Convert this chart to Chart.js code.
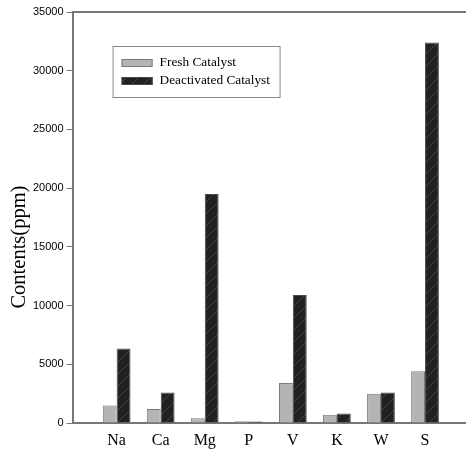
<!DOCTYPE html>
<html>
<head>
<meta charset="utf-8">
<script src="https://cdn.jsdelivr.net/npm/chart.js@4/dist/chart.umd.min.js"></script>
<style>
  body { margin: 0; background: #fff; }
  #wrap { width: 466px; height: 449px; position: relative; }
</style>
</head>
<body>
<div id="wrap"><canvas id="barChart"></canvas></div>
<script>
// element names along the x axis
var elements = ['Na', 'Ca', 'Mg', 'P', 'V', 'K', 'W', 'S']
// contents in ppm
var freshValues = [1500, 1200, 400, 150, 3400, 700, 2500, 4400]
var deactivatedValues = [6350, 2600, 19500, 120, 10900, 800, 2600, 32400]
var seriesNames = ['Fresh Catalyst', 'Deactivated Catalyst']
var yTicks = [0, 5000, 10000, 15000, 20000, 25000, 30000, 35000]

// diagonal hatch for the dark bars
function makeHatch() {
    var c = document.createElement('canvas')
    c.width = 12
    c.height = 12
    var g = c.getContext('2d')
    g.fillStyle = '#212121'
    g.fillRect(0, 0, 12, 12)
    g.strokeStyle = '#424242'
    g.lineWidth = 1
    g.beginPath()
    g.moveTo(0, 12); g.lineTo(12, 0)
    g.moveTo(-6, 6); g.lineTo(6, -6)
    g.moveTo(6, 18); g.lineTo(18, 6)
    g.stroke()
    return g.createPattern(c, 'repeat')
}
var hatch = makeHatch()

function toPoints(values) {
    return values.map(function (v, i) { return { x: i + 1, y: v } })
}

// legend box drawn inside the plot
var boxLegend = {
    id: 'boxLegend',
    afterDraw: function (chart) {
        var ctx = chart.ctx
        var a = chart.chartArea
        var x = a.left + 40, y = a.top + 34
        ctx.save()
        ctx.fillStyle = '#fff'
        ctx.fillRect(x, y, 167, 51)
        ctx.strokeStyle = '#888'
        ctx.lineWidth = 1
        ctx.strokeRect(x + 0.5, y + 0.5, 167, 51)
        ctx.font = '13.3px "Liberation Serif", "Times New Roman", serif'
        ctx.textBaseline = 'middle'
        chart.data.datasets.forEach(function (ds, i) {
            var ry = y + 17 + i * 18
            ctx.fillStyle = ds.backgroundColor
            ctx.fillRect(x + 9, ry - 4, 31, 8)
            ctx.strokeStyle = ds.borderColor
            ctx.strokeRect(x + 9.5, ry - 3.5, 30, 7)
            ctx.fillStyle = '#000'
            ctx.fillText(ds.label, x + 47, ry)
        })
        ctx.restore()
    }
}

// rotated y title, sitting a bit below the middle as in the original
var yTitle = {
    id: 'yTitle',
    afterDraw: function (chart) {
        var ctx = chart.ctx
        var a = chart.chartArea
        ctx.save()
        ctx.translate(20, a.top + a.height * 0.572)
        ctx.rotate(-Math.PI / 2)
        ctx.font = '20.5px "Liberation Serif", "Times New Roman", serif'
        ctx.fillStyle = '#000'
        ctx.textAlign = 'center'
        ctx.textBaseline = 'middle'
        ctx.fillText('Contents(ppm)', 0, 0)
        ctx.restore()
    }
}

var axisGray = '#777'

new Chart(document.getElementById('barChart').getContext('2d'), {
    type: 'bar',
    data: {
        datasets: [
            {
                label: seriesNames[0],
                data: toPoints(freshValues),
                backgroundColor: '#b4b4b4',
                borderColor: '#7a7a7a',
                borderWidth: 1,
                barPercentage: 1,
                categoryPercentage: 0.63
            },
            {
                label: seriesNames[1],
                data: toPoints(deactivatedValues),
                backgroundColor: hatch,
                borderColor: '#4a4a4a',
                borderWidth: 1,
                barPercentage: 1,
                categoryPercentage: 0.63
            }
        ]
    },
    options: {
        maintainAspectRatio: false,
        responsive: true,
        animation: false,
        layout: { padding: { left: 30, top: 12, right: 0, bottom: 0 } },
        plugins: {
            legend: { display: false },
            tooltip: { enabled: false }
        },
        scales: {
            x: {
                type: 'linear',
                min: 0,
                max: 8.93,
                offset: false,
                grid: { display: false, drawTicks: false, offset: false },
                border: { display: true, color: axisGray, width: 2 },
                afterFit: function (scale) { scale.height = 26 },
                ticks: {
                    stepSize: 1,
                    includeBounds: false,
                    autoSkip: false,
                    maxRotation: 0,
                    padding: 8,
                    color: '#000',
                    font: { family: '"Liberation Serif", "Times New Roman", serif', size: 16 },
                    callback: function (v) { return elements[v - 1] || '' }
                }
            },
            xTop: {
                type: 'linear',
                position: 'top',
                min: 0,
                max: 1,
                grid: { display: false, drawTicks: false },
                ticks: { display: false },
                border: { display: true, color: axisGray, width: 2 }
            },
            y: {
                min: 0,
                max: 35000,
                afterBuildTicks: function (scale) {
                    scale.ticks = yTicks.map(function (v) { return { value: v } })
                },
                grid: { drawOnChartArea: false, drawTicks: true, tickLength: 6, color: axisGray },
                border: { display: true, color: axisGray, width: 2 },
                ticks: {
                    padding: 3,
                    color: '#000',
                    font: { family: '"Liberation Sans", Arial, sans-serif', size: 11 },
                    callback: function (v) { return String(v) }
                }
            }
        }
    },
    plugins: [boxLegend, yTitle]
})
</script>
</body>
</html>
